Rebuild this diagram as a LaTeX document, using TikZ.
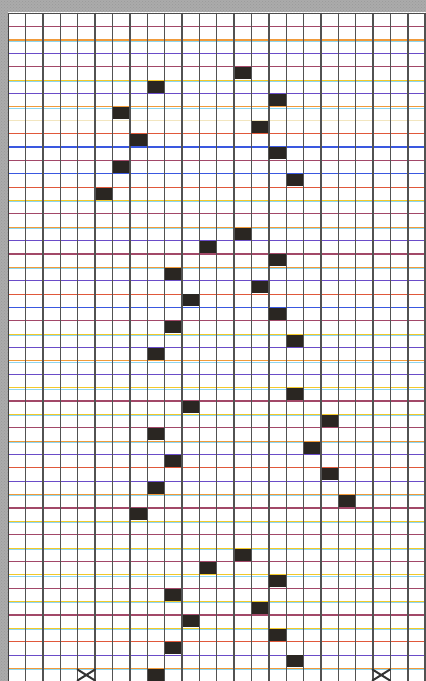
\documentclass[tikz,border=0pt]{standalone}
\usetikzlibrary{patterns}
\definecolor{cM}{HTML}{A24868}
\definecolor{cO}{HTML}{F09A3A}
\definecolor{cY}{HTML}{F2C92A}
\definecolor{cP}{HTML}{6A4CC8}
\definecolor{cB}{HTML}{3A58E0}
\definecolor{cR}{HTML}{E0583A}
\definecolor{cF}{HTML}{F2E6C0}
\definecolor{cyanline}{HTML}{8ED6EE}
\definecolor{bordergray}{HTML}{ABABAB}
\definecolor{squarefill}{HTML}{2A2622}
\tikzset{
  hline/.style={line width=1.1pt},
  cline/.style={line width=0.9pt, color=cyanline},
  vline/.style={line width=1.4pt, color=black!68},
  cellsq/.style={fill=squarefill},
  xmark/.style={line width=2pt, color=black!80, line cap=round}
}
\begin{document}
\begin{tikzpicture}[x=1pt,y=-1pt]
\useasboundingbox (0,0) rectangle (426,681);
\fill[white] (0,0) rectangle (426,681);
% textured border
\fill[bordergray] (0,0) rectangle (426,12);
\fill[bordergray] (0,0) rectangle (7.6,681);
\fill[pattern=crosshatch dots, pattern color=black!40] (0,0) rectangle (426,12);
\fill[pattern=crosshatch dots, pattern color=black!40] (0,12) rectangle (7.6,681);
% cyan companion lines
\foreach \k in {2,5,7,14,16,19,24,26,28,30,32,36,38,40,42,44,46,49} {
  \pgfmathsetmacro\yy{13.3+13.37*\k+1.3}
  \draw[cline] (8.3,\yy) -- (426,\yy);
}
% coloured horizontal lines
\foreach \k/\c in {1/cM,2/cO,3/cP,4/cM,5/cY,6/cP,7/cO,8/cF,9/cR,10/cB,
  11/cM,12/cB,13/cR,14/cY,15/cM,16/cO,17/cP,18/cM,19/cO,20/cP,
  21/cR,22/cB,23/cM,24/cY,25/cP,26/cO,27/cP,28/cY,29/cM,30/cY,
  31/cM,32/cO,33/cP,34/cR,35/cP,36/cO,37/cM,38/cY,39/cM,40/cY,
  41/cM,42/cY,43/cM,44/cY,45/cM,46/cY,47/cR,48/cP,49/cO} {
  \pgfmathsetmacro\yy{13.3+13.37*\k}
  \draw[hline, color=\c] (8.3,\yy) -- (426,\yy);
}
% vertical lines
\foreach \i in {1,...,24} {
  \pgfmathsetmacro\xx{8.3+17.37*\i}
  \draw[vline] (\xx,12.6) -- (\xx,681);
}
\draw[line width=1.5pt, color=black!75] (8.3,12.6) -- (8.3,681);
\draw[line width=1.3pt, color=black!70] (7.6,13.3) -- (426,13.3);
% black squares (column/row)
\foreach \c/\r in {13/4,8/5,15/6,6/7,14/8,7/9,15/10,6/11,16/12,5/13,
  13/16,11/17,15/18,9/19,14/20,10/21,15/22,9/23,16/24,8/25,
  16/28,10/29,18/30,8/31,17/32,9/33,18/34,8/35,19/36,7/37,
  13/40,11/41,15/42,9/43,14/44,10/45,15/46,9/47,16/48,8/49} {
  \pgfmathsetmacro\xa{8.3+17.37*\c+0.6}
  \pgfmathsetmacro\ya{13.3+13.37*\r+0.4}
  \fill[cellsq] (\xa,\ya) rectangle ++(16.2,12.0);
}
% cross marks at the bottom
\draw[xmark] (77.5,669.5) -- (95,680.5);
\draw[xmark] (95,669.5) -- (77.5,680.5);
\draw[xmark] (372.5,669.5) -- (390,680.5);
\draw[xmark] (390,669.5) -- (372.5,680.5);
\end{tikzpicture}
\end{document}
